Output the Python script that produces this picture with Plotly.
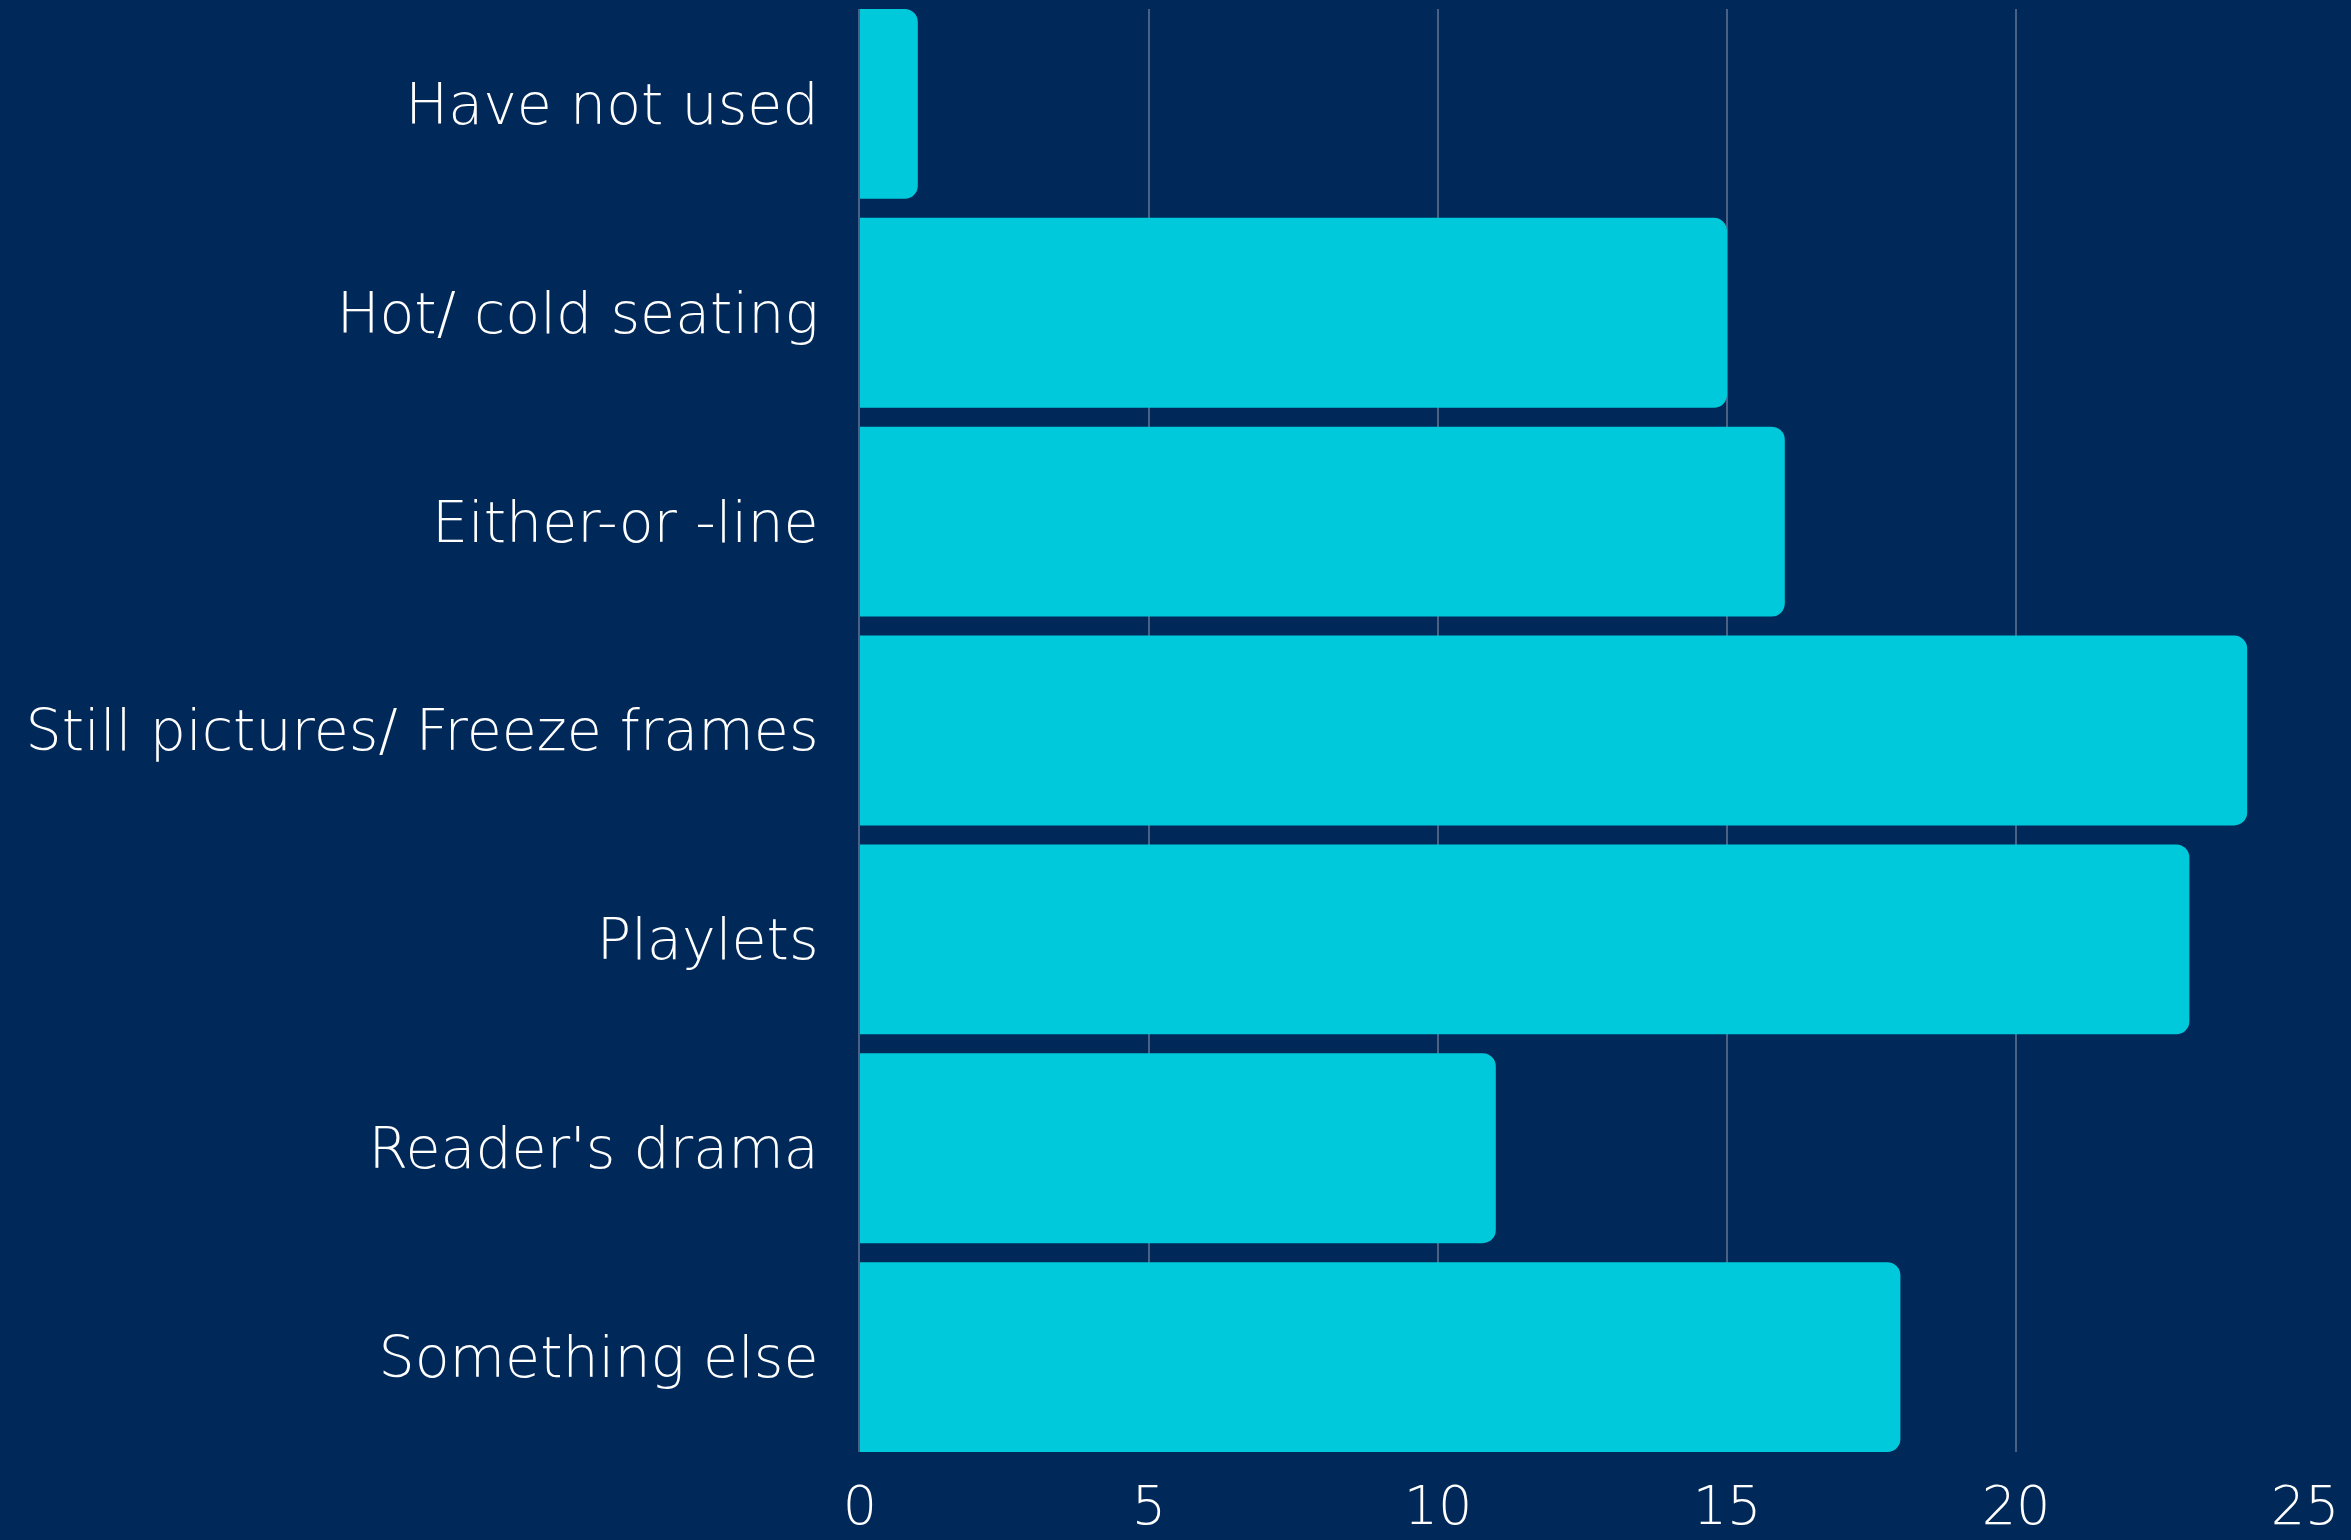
import plotly.graph_objects as go

categories = ["Have not used", "Hot/ cold seating", "Either-or -line",
              "Still pictures/ Freeze frames", "Playlets", "Reader's drama",
              "Something else"]
values = [1, 15, 16, 24, 23, 11, 18]
x_ticks = [0, 5, 10, 15, 20, 25]

BG = "#002858"
BAR = "#00c9db"
GRID = "#4a6185"
FONT = "DejaVu Sans"

bw = 190 / 209

fig = go.Figure(go.Bar(
    x=values, y=list(range(len(categories))), orientation="h",
    marker=dict(color=BAR, line=dict(width=0)), width=bw,
))
yf = dict(size=57, color="white", family=FONT, weight=200)
xf = dict(size=54, color="white", family=FONT, weight=200)
fig.update_layout(
    width=2351, height=1540,
    margin=dict(l=860, r=46, t=9, b=88, autoexpand=False),
    paper_bgcolor=BG, plot_bgcolor=BG,
    barcornerradius=13,
    showlegend=False,
    font=yf,
    xaxis=dict(range=[0, 25], tickvals=x_ticks, ticktext=[str(t) for t in x_ticks],
               showgrid=True, gridcolor=GRID, gridwidth=2, zeroline=False,
               showline=False, ticks="", ticklabelstandoff=17, tickfont=xf,
               automargin=False),
    yaxis=dict(range=[6 + bw / 2, -bw / 2], tickvals=list(range(len(categories))),
               ticktext=categories, showgrid=False, zeroline=False,
               showline=True, linecolor=GRID, linewidth=2, ticks="",
               ticklabelstandoff=28, tickfont=yf, automargin=False),
)
fig.write_html("out.html", config={"displayModeBar": False},
               post_script="document.body.style.margin='0';document.body.style.background='%s';" % BG)
